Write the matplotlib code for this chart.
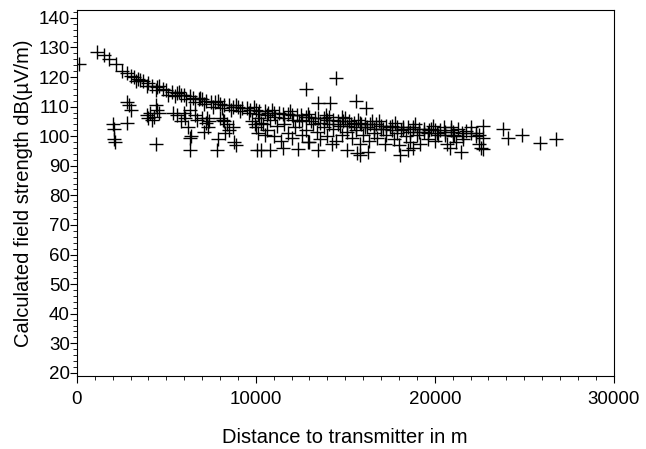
import matplotlib
matplotlib.use("Agg")
import matplotlib.pyplot as plt
from matplotlib.ticker import MultipleLocator

# main decay band
band_dist = [100, 1100, 1500, 1800, 2200, 2500, 2800, 3000, 3200, 3300, 3500, 3700, 3900,
             4000, 4200, 4400, 4500, 4800, 5000, 5100, 5300, 5500, 5600, 5800, 6000, 6100,
             6300, 6500, 6600, 6800, 7000, 7100, 7200, 7500, 7600, 7700, 8000, 8100, 8200,
             8500, 8600, 8700, 9000, 9100, 9200, 9500, 9600, 9700, 10000, 10100, 10200,
             10500, 10600, 10700, 11000, 11100, 11300, 11500, 11600, 11800, 12000, 12100,
             12300, 12500, 12600, 12800, 13000, 13100, 13300, 13500, 13600, 13800, 14000,
             14100, 14300, 14600, 14600, 14900, 15100, 15200, 15500, 15600, 15800, 16100,
             16100, 16400, 16600, 16700, 17000, 17100, 17300, 17600, 17600, 17900, 18100,
             18200, 18500, 18600, 18800, 19100, 19100, 19400, 19600, 19700, 20000, 20100,
             20300, 20600, 20600, 21000, 21100, 21500, 21600, 22000, 22500,
             3400, 4600, 5700, 6900, 7900, 8900, 9900, 10900, 11900, 12900, 13900, 14800,
             15700, 16900, 17800, 18900, 19900, 20900]
band_field = [124.5, 128.5, 127.5, 126, 124.5, 122, 121.5, 120.5, 120, 118.5, 119, 118.5, 117,
              118, 117, 115.5, 116.5, 116, 115.5, 114, 115, 113.5, 114.5, 114, 114, 112.5,
              113.5, 113, 111.5, 112.5, 112.5, 111, 112, 111.5, 110, 111.5, 111, 109.5, 110.5,
              110.5, 109, 110, 110, 108.5, 109.5, 109.5, 108, 109, 109, 107.5, 108.5,
              108.5, 107, 108, 108, 106.5, 108, 107.5, 106, 107.5, 107, 105.5,
              107, 107, 105.5, 106.5, 106.5, 105, 106, 106, 104.5, 106, 105.5,
              104, 105.5, 105, 104, 105, 103.5, 105, 104.5, 103, 104.5, 104,
              103, 104, 102.5, 104, 103.5, 102.5, 103.5, 103.5, 102, 103, 102,
              103, 103, 101.5, 102.5, 102.5, 101.5, 102.5, 101, 102, 102, 101,
              102, 101.5, 100.5, 101.5, 100.5, 101, 100, 101, 100.5,
              119.5, 117, 115, 113, 112, 110.5, 110, 109, 108.5, 107.5, 107, 106.5,
              105.5, 105, 104.5, 104, 103.5, 103]

# scattered lower points
low_dist = [2000, 2100, 2050, 2150, 2800, 2900, 3000, 2800, 4400, 3900, 4000, 4100, 4400,
            4500, 4600, 4300, 4200, 5360, 5600, 5800, 6000, 6030, 6200, 6310, 6400, 6600,
            6700, 6300, 6300, 7000, 7200, 7250, 7300, 7100, 7400, 7900, 7850, 8000, 8180,
            8200, 8400, 8500, 8300, 8700, 8800, 8920, 9800, 9950, 10000, 10100, 10200, 10400,
            10500, 10040, 10300, 10780, 11510, 12350, 12900, 13460, 14250, 15080, 15640,
            12790, 14470, 13460, 14130, 15620, 16180, 15810, 16260, 18050, 18490, 18770,
            20840, 20930, 21770, 22330, 22680, 22680, 22680, 21490, 21210, 23820, 24100,
            24850, 25870, 26800, 22610,
            10300, 10600, 10800, 11000, 11200, 11400, 11600, 11800, 12000, 12200, 12400,
            12600, 12800, 13000, 13200, 13400, 13600, 13800, 14000, 14100, 14300, 14500,
            14700, 14800, 15000, 15100, 15300, 15400, 15600, 15800, 15900, 16000, 16200,
            16300, 16500, 16600, 16800, 17000, 17200, 17300, 17500, 17700, 17900, 18000,
            18200, 18400, 18600, 18800, 19000, 19200, 19400, 19600, 19800, 20000, 20200,
            20500, 20700, 21000, 21300, 21600, 22000, 22300, 22500]
low_field = [104, 102.5, 99, 98, 111.5, 110.5, 109, 104.5, 97.5, 107, 106, 108, 110.5,
             109, 108, 106.5, 105.5, 108, 107, 105, 108, 106, 103, 109, 100, 107,
             105.5, 99.5, 95.5, 106, 104.5, 106, 103, 101.5, 105, 99, 95.5, 106, 105.5,
             105, 104, 102, 101, 103, 98, 97, 105, 104, 103, 101, 106, 104,
             100.5, 95.5, 95.5, 95.4, 96, 95.6, 98.2, 95.4, 97.4, 95.4, 94.3,
             115.9, 119.6, 111.2, 111.2, 112, 109.5, 93.7, 94.8, 93.7, 95.4, 96,
             96, 102.2, 101.6, 101, 103.3, 99.4, 95.6, 94.8, 98.2, 102.5, 99.4,
             100.5, 97.7, 99.1, 96,
             104.5, 102, 105.5, 100, 103.5, 98.5, 104, 101, 99.5, 103, 105,
             100.5, 102, 98, 104, 101.5, 99, 103, 100, 106.5, 102.5, 98.5,
             103.5, 100.5, 106, 101.5, 104, 99.5, 102, 97.5, 104, 100.5, 103,
             98.5, 105, 101, 99.5, 102.5, 97.5, 100.5, 103, 99, 101, 97,
             102.5, 100, 98, 103, 100.5, 97.5, 101.5, 99, 102.5, 98.5, 100.5,
             103, 97.5, 100, 102.5, 99, 103, 100, 97.5]

plt.rcParams['font.family'] = ['Liberation Sans', 'DejaVu Sans']

fig, ax = plt.subplots(figsize=(6.46, 4.49), dpi=100)
fig.subplots_adjust(left=0.119, right=0.950, top=0.978, bottom=0.163)

ax.plot(band_dist + low_dist, band_field + low_field, linestyle='none', marker='+',
        color='black', markersize=10, markeredgewidth=1.0)

ax.set_xlim(0, 30000)
ax.set_ylim(19, 142.7)
ax.xaxis.set_major_locator(MultipleLocator(10000))
ax.xaxis.set_minor_locator(MultipleLocator(1000))
ax.yaxis.set_major_locator(MultipleLocator(10))
ax.yaxis.set_minor_locator(MultipleLocator(2))
ax.set_yticks(range(20, 141, 10))
ax.tick_params(axis='both', which='major', labelsize=13.5, length=5, width=0.8)
ax.tick_params(axis='both', which='minor', length=3, width=0.6)
ax.tick_params(axis='x', pad=6)
ax.tick_params(axis='y', pad=0)

ax.set_xlabel('Distance to transmitter in m', fontsize=14.5, labelpad=14)
ax.set_ylabel('Calculated field strength dB(µV/m)', fontsize=14.5, labelpad=4)

fig.savefig('out.png', dpi=100)
